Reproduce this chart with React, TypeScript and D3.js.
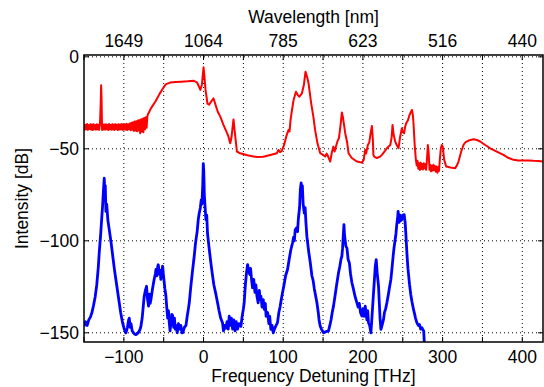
import React from 'react';
import * as d3 from 'd3';

// pump spectrum (red), detuning [THz] / intensity [dB]
const redFreq = [
  -150, -149, -148, -147, -146, -145, -144, -143, -142, -141, -140, -139, -138, -137, -136, -135,
  -134, -133, -132, -131, -130, -129, -128.5, -128, -127.3, -126.5, -125.5, -124.5, -123.5, -122.5,
  -121.5, -120.5, -119.5, -118.5, -117.5, -116.5, -115.5, -114.5, -113.5, -112.5, -111.5, -110.5,
  -109.5, -108.5, -107.5, -106.5, -105.5, -104.5, -103.5, -102.5, -101.5, -100.5, -99.5, -98.5,
  -97.5, -96.5, -95.5, -94.5, -93.5, -92.5, -91.5, -90.5, -89.5, -88.5, -87.5, -86.5, -85.5, -84.5,
  -83.5, -82.5, -81.5, -80.5, -79.5, -78.5, -77.5, -76.5, -75.5, -74.5, -73.5, -72.5, -71.5, -70.5,
  -70, -66, -60, -55,
  -50, -47, -42, -35, -28, -20, -12, -8, -4, -2, -0.5, 0, 0.8, 2.5, 5, 7, 10, 12.5, 15, 18, 21,
  25, 28, 31, 33.5, 35, 37.6, 39, 41.9, 46, 55, 67, 75, 85, 92, 94, 96, 98.3, 101, 104, 106.7,
  108, 109, 111, 113, 116, 118, 120, 123.5, 126, 128, 130, 131.8, 135, 138, 140, 143, 146.4, 149,
  152.7, 154.5, 156, 159, 161, 163, 164.5, 166, 168, 170, 172, 173.6, 175, 177.8, 180, 182, 186,
  192.4, 198.7, 201, 202.9, 204, 206.2, 208, 209.5, 211.3, 212.5, 213.2, 214.2, 217.6, 221.7,
  223.8, 228, 230, 234.3, 236, 237.2, 238.5, 240.5, 242, 244.7, 246.5, 248.9, 250, 251.8, 253,
  254.3, 256.5, 258.5, 261.5, 262.5, 263.5, 265, 266.5, 267.5, 268.5, 269.5, 270.5, 271.5, 272.5,
  273.5, 274.5, 275.5, 276.5, 277.5, 278.5, 279.4, 280.5, 281.5, 282.5, 283.6, 284.5, 285.5, 286.5,
  287.5, 288.5, 289.5, 290.5, 291.5, 292.5, 293.5, 294.5, 295.5, 296.5, 297.8, 299, 300.3, 302,
  304.5, 310, 315.8, 318, 320, 323, 326.2, 329, 332.5,
  338.8, 343, 347.2, 353, 359.7, 368, 376.4, 383, 389, 395, 401.5, 408, 414, 420, 426,
];
const redDb = [
  -36.6, -39.6, -36.9, -39.4, -36.5, -39.7, -37, -39.2, -36.7, -39.5, -36.8, -39.8, -36.6, -39.3,
  -37.1, -39.6, -36.7, -39.4, -36.9, -39.7, -37, -25, -15.5, -22, -39.7, -36.6, -39.5, -36.8, -39.6,
  -36.7, -39.3, -36.9, -39.8, -36.5, -39.4, -37, -39.6, -36.7, -39.5, -36.8, -39.7, -36.6, -39.2,
  -36.9, -39.8, -36.6, -39.5, -36.8, -39.4, -36.5, -39.7, -37, -39.5, -36.7, -39.6, -36.4, -39.8,
  -36.6, -39.3, -36.2, -39.9, -35.8, -39.6, -35.6, -40.2, -35.2, -40, -35, -40.4, -34.6, -40.1,
  -34.4, -41.5, -34, -40.6, -33.6, -41, -33.2, -39.4, -32.8, -38.6, -32.5, -31.5, -28, -24, -20,
  -16.5, -14.8, -14, -13.7, -13.5, -13.3, -13, -14, -18, -15, -8, -5.7, -9, -18, -25.5, -26, -24, -22.6, -26, -30, -32.5,
  -37, -40, -43, -47, -44, -34, -40, -51.5, -52.4, -53.5, -54.5, -54.3, -53.2, -52.4, -50.6, -51.8, -51, -48, -43, -39.7,
  -40.5, -35, -28.9, -23.5, -19, -20.5, -21.7, -19.8, -15, -8.1, -11, -14.4, -25, -33, -39.7, -47, -52.4, -53,
  -54.2, -52.6, -53.8, -56.9, -52, -48.8, -51.5, -49, -46, -44, -37, -30.3, -33, -41.5, -46, -52.4, -55,
  -56.9, -57.5, -56, -50.6, -52.5, -47.9, -46.5, -42, -37.6, -45, -53.5, -54.2, -55, -54.2,
  -53.3, -51, -49.7, -47.9, -44, -37, -42, -46, -47.5, -49.7, -44, -38.8, -41, -41.5, -38,
  -36.1, -34.5, -31.6, -28.9, -31, -36.1, -48, -56, -59, -56.5, -60.8, -57.8, -61.5, -57.5, -60.9,
  -58.2, -61.2, -57.9, -60.6, -58.4, -61.4, -55, -47.9, -52, -61.4, -58.6, -62.2, -59.2, -61.8,
  -58.6, -61.6, -59.4, -62.4, -59.6, -63, -60, -62, -56, -49.7, -47.9, -49, -56,
  -59.6, -60.2, -60.5, -59, -56.9, -52, -47.9, -46.3, -45.5,
  -44.8, -45.2, -46, -47.8, -49.7, -51.5, -53.3, -55, -56, -56.3, -56.4, -56.3, -56.5, -56.6, -56.9,
];

// generated comb (blue)
const blueFreq = [
  -150, -148, -146, -144, -142, -140, -138, -136, -134, -132, -130.9, -129, -127.5, -126.7, -125.5,
  -124.6, -124, -123.3, -122.5, -121.5, -120, -118.3, -116, -114, -112, -110, -108, -106, -104,
  -101.6, -99.5, -97.4, -95.5, -94, -93.2, -92, -91, -89.5, -87, -84.8, -82, -80, -78.5, -77, -75.5,
  -74.4, -73, -71.5, -70.5, -69, -68, -67, -66, -64, -62, -60.5, -59.7, -58.5, -57.5, -56.8, -55.5,
  -54.5, -53.6, -52.5, -51.4, -50, -48.5, -47.2, -46, -45, -44, -43, -42, -41, -39.8, -38.9, -37.5,
  -36.5, -35.5, -34.7, -33, -31.5, -30, -28.5, -27, -26, -24, -22, -20.5, -19, -17.9, -16, -14, -11.7,
  -10, -8, -6.5, -5.4, -4, -2.9, -2, -1, -0.3, 0.3, 1, 2, 3, 4, 5, 7, 9.2, 11, 13, 15.5, 17.6, 19.5,
  21.5, 23.8, 25, 26.5, 28, 29.5, 31, 32.2, 33.5, 35, 36.5, 38, 39.5, 41, 42.7, 44.5, 46.9, 48.5, 50,
  51, 52.5, 54, 55.3, 56.5, 58, 59, 60.5, 61.5, 63, 64.5, 65.7, 67, 68.5, 70, 71, 72, 73.5, 75, 76.2,
  77.5, 78.5, 80.4, 82, 83, 84.5, 86, 87.5, 89, 90.5, 92.8, 94.5, 96, 97.5, 99.1, 101, 103, 105.4,
  107.5, 109.5, 111.7, 113, 114, 115, 116.7, 118, 119, 120.5, 121.5, 122.5, 123.3, 124, 125, 126.4,
  127.5, 128.5, 129.7, 130.5, 132, 134, 136, 137.5, 139, 142.3, 144, 145, 146.4, 148, 150.6, 153,
  156.8, 158.5, 160, 161.5, 163.1, 165, 167, 169.4, 171, 172.5, 173.6, 174.5, 175.5, 176.2, 177,
  177.8, 178.7, 180, 181.4, 183, 184.5, 186.2, 188, 190, 192.5, 194, 195.5, 197, 198.7, 200, 201.5,
  202.9, 204, 205, 206, 207, 208.5, 210, 211, 212.5, 214, 215.5, 216.7, 217.8, 219.6, 220.5, 221.5,
  222.6, 224, 225.9, 227, 228.5, 230.1, 232, 233.5, 235.1, 236.5, 238, 239, 240.5, 241.5, 242.5,
  243.5, 244.2, 244.7, 245.5, 246.5, 247.5, 248.9, 250, 251.8, 253, 254, 255.2, 256.5, 258.5, 260,
  261.5, 263.5, 265, 266, 267.7, 269.5, 271, 272.5, 274, 275.5, 276.3, 277,
];
const blueDb = [
  -146.5, -144, -146, -143, -141.5, -139, -135, -130.5, -124, -114, -106.6, -96, -86, -81.3, -72,
  -66, -72, -70, -84, -80, -89, -93.9, -101, -108, -115, -121, -127, -133, -139,
  -144.5, -148, -150, -147, -143, -142, -147, -145, -149, -150.5, -151, -150, -148.5, -146.3, -142, -135,
  -130, -127, -124.7, -131, -135.5, -129, -134, -131.9, -126, -121, -118, -115.6, -119, -114, -113, -118,
  -116, -121, -117, -113.8, -120, -126, -130, -137, -142, -138, -144.5, -149, -145, -140, -140.5, -147,
  -142, -148, -146, -150, -145, -148, -146, -150, -149.9, -147, -146, -141, -137, -133.7, -125, -117, -108.4,
  -101, -95, -88, -85, -82, -77.7, -80, -70, -58, -62, -75, -82, -88.5, -86, -96, -104, -112, -118, -124, -129, -133.7, -138,
  -142, -144.5, -149, -146, -147.5, -144, -148, -141, -146, -142, -148, -143, -149, -144, -148, -145, -146.5, -141, -137,
  -133.7, -124, -117, -112.9, -116, -118.3, -115, -122, -125.5, -121, -128, -124, -130, -133.7, -127, -132, -130, -136, -132, -137.3,
  -134, -141, -139, -145, -141, -148.1, -146, -150, -148, -146.5, -144.5, -139, -136, -132, -128.2, -124, -119, -115.6,
  -110, -105, -101.1, -98, -100, -94, -93, -95, -88, -82, -72, -68.5, -74, -70, -80, -84.9,
  -82, -90, -97.6, -100.5, -106, -112, -119, -121.5, -126, -133.7, -139, -143, -146.3, -148, -150, -149.5,
  -149, -146, -143, -139, -135.5, -130, -124, -117.4, -114, -110, -108.4, -104, -96, -91.2, -97,
  -100, -103, -104, -110, -112, -118, -122.8, -126, -130, -133.7, -136, -134, -139, -140.9, -137, -141,
  -135.5, -139, -143, -138, -144.5, -146, -150, -144, -133.7, -124, -114, -110.2, -117, -124.7, -133, -142,
  -148.1, -146, -142.7, -139, -137, -133.7, -129, -125, -121, -115, -108, -104, -99.3, -96, -91,
  -88, -84, -87, -90, -86, -89, -88.5, -86, -85.8, -90, -97, -106.6, -115, -123.7, -129,
  -133, -137.3, -140, -142, -144.5, -146, -145.5, -148, -147.2, -148.5, -149, -155,
];

const xTicks = [-150, -100, -50, 0, 50, 100, 150, 200, 250, 300, 350, 400];
const xLabelTicks = [-100, 0, 100, 200, 300, 400];
const wavelengthLabels = ['1649', '1064', '785', '623', '516', '440'];
const yTicks = [0, -50, -100, -150];

const W = 544;
const H = 387;
const margin = { top: 55, right: 1, bottom: 45, left: 84 };
const font = '"Liberation Sans", Arial, Helvetica, sans-serif';
const fs = 17.5;

export default function App() {
  const x = d3.scaleLinear().domain([-150, 426]).range([margin.left, W - margin.right]);
  const y = d3.scaleLinear().domain([-155, 1]).range([H - margin.bottom, margin.top]);
  const x0 = margin.left;
  const x1 = W - margin.right;
  const y0 = margin.top;
  const y1 = H - margin.bottom;

  const mk = (fq: number[], db: number[]) =>
    d3.line<[number, number]>()
      .x(d => x(d[0]))
      .y(d => y(d[1]))(fq.map((f, i) => [f, db[i]] as [number, number])) || '';

  const fmt = (v: number) => (v < 0 ? '\u2212' + Math.abs(v) : String(v));

  return (
    <svg width={W} height={H} style={{ position: 'absolute', left: 0, top: 0, background: '#fff' }}
      fontFamily={font}>
      <defs>
        <clipPath id="plot">
          <rect x={x0} y={y0} width={x1 - x0} height={y1 - y0} />
        </clipPath>
      </defs>
      {/* grid */}
      {xTicks.filter(t => t > -150).map(t => (
        <line key={'gx' + t} x1={x(t)} x2={x(t)} y1={y0} y2={y1}
          stroke="#000" strokeWidth={1} strokeDasharray="1 3" />
      ))}
      {yTicks.map(t => (
        <line key={'gy' + t} x1={x0} x2={x1} y1={y(t)} y2={y(t)}
          stroke="#000" strokeWidth={1} strokeDasharray="1 3" />
      ))}
      {/* curves */}
      <g clipPath="url(#plot)">
        <path d={mk(redFreq, redDb)} fill="none" stroke="#ff0000" strokeWidth={2} strokeLinejoin="round" />
        <path d={mk(blueFreq, blueDb)} fill="none" stroke="#0000ff" strokeWidth={2.8} strokeLinejoin="round" />
      </g>
      {/* frame */}
      <rect x={x0} y={y0} width={x1 - x0} height={y1 - y0} fill="none" stroke="#000" strokeWidth={1.5} />
      {/* ticks */}
      {xTicks.map(t => (
        <g key={'tx' + t}>
          <line x1={x(t)} x2={x(t)} y1={y1} y2={y1 - 5} stroke="#000" />
          <line x1={x(t)} x2={x(t)} y1={y0} y2={y0 + 5} stroke="#000" />
        </g>
      ))}
      {yTicks.map(t => (
        <g key={'ty' + t}>
          <line x1={x0} x2={x0 + 5} y1={y(t)} y2={y(t)} stroke="#000" />
          <line x1={x1} x2={x1 - 5} y1={y(t)} y2={y(t)} stroke="#000" />
        </g>
      ))}
      {/* tick labels */}
      {xLabelTicks.map(t => (
        <text key={'lx' + t} x={x(t)} y={363} textAnchor="middle" fontSize={fs}>{fmt(t)}</text>
      ))}
      {xLabelTicks.map((t, i) => (
        <text key={'lw' + t} x={x(t)} y={47} textAnchor="middle" fontSize={fs}>{wavelengthLabels[i]}</text>
      ))}
      {yTicks.map(t => (
        <text key={'ly' + t} x={79} y={y(t)} dy="0.36em" textAnchor="end" fontSize={fs}>{fmt(t)}</text>
      ))}
      {/* axis titles */}
      <text x={(x0 + x1) / 2} y={382} textAnchor="middle" fontSize={fs}>Frequency Detuning [THz]</text>
      <text x={(x0 + x1) / 2} y={23} textAnchor="middle" fontSize={fs}>Wavelength [nm]</text>
      <text transform={`translate(28,${(y0 + y1) / 2}) rotate(-90)`} textAnchor="middle" fontSize={fs}>Intensity [dB]</text>
    </svg>
  );
}
